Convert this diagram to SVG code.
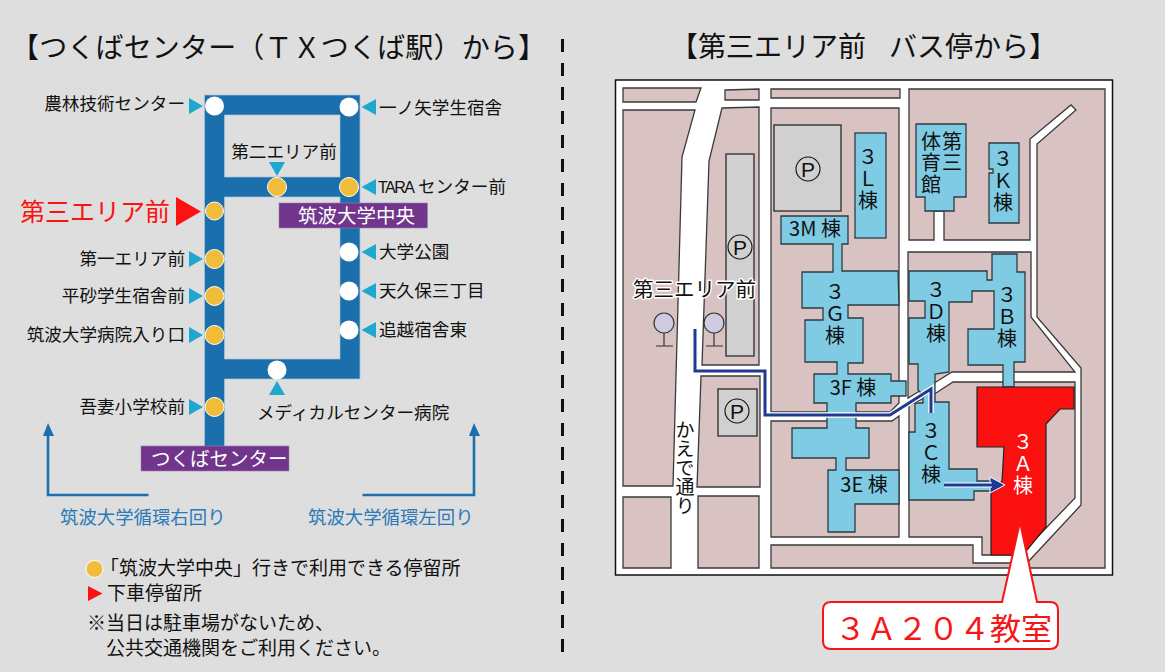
<svg xmlns="http://www.w3.org/2000/svg" width="1165" height="672" viewBox="0 0 1165 672">
<style>
text{font-family:"Noto Sans CJK JP","Noto Sans",sans-serif;fill:#111}
.t{font-size:28px}
.l{font-size:17.6px}
.e{text-anchor:end}
.c{text-anchor:middle}
.v{writing-mode:vertical-rl;font-size:20px;letter-spacing:1.500px}
.cy{fill:#1fa8cf}
.ys{fill:#f0bc3a;stroke:#fff;stroke-width:1}
.ws{fill:#fff}
.pu{fill:#71358c;stroke:#9b7fb0;stroke-width:.6}
.wt{fill:#fff;font-size:19.5px}
.bt{fill:#2a7ab8;font-size:18.4px}
.lg{font-size:19px}
.arr{fill:none;stroke:#1b6fad;stroke-width:2.6}
.ah{fill:#1b6fad}
.pk{fill:#d8c2c2;stroke:#3a3a3a;stroke-width:1.3}
.gr{fill:#d0d0d0;stroke:#2a2a2a;stroke-width:1.3}
.bl{fill:#7ecbe3;stroke:#2c3c44;stroke-width:1.3;fill-rule:evenodd}
.m{font-size:20px}
.pc{fill:none;stroke:#111;stroke-width:1.1}
.p{font-family:"Liberation Sans",sans-serif;font-size:21px}
.halo{fill:none;stroke:#fff;stroke-width:5.5}
.nv{fill:none;stroke:#1f3a93;stroke-width:3}
.sg{fill:#cfcbe2;stroke:#333;stroke-width:1.2}
.sl{fill:none;stroke:#333;stroke-width:1.2}
</style>
<rect width="1165" height="672" fill="#dedede"/>
<line x1="562.500" y1="39" x2="562.500" y2="652" stroke="#111" stroke-width="3" stroke-dasharray="13 11"/>

<g id="left-panel">
<text class="t" x="11" y="58" textLength="535">【つくばセンター（ＴＸつくば駅）から】</text>
</g>

<g id="connectors">
<path d="M204.5,95H360V379H224.5V447H204.5ZM224.5,115V177H340V115ZM224.5,197V359H340V197Z" fill="#1b6fad" fill-rule="evenodd" stroke="#a8c4da" stroke-width=".7"/>
<path class="arr" d="M148.500,495H48V432"/>
<path class="ah" d="M48,423L54,436H43Z"/>
<path class="arr" d="M362.500,495H474V432"/>
<path class="ah" d="M474,423L480,436H469Z"/>
</g>

<g id="stops">
<circle class="ws" cx="214.500" cy="106" r="9.500"/>
<circle class="ys" cx="214.500" cy="211" r="9"/>
<circle class="ys" cx="214.500" cy="259" r="9.500"/>
<circle class="ys" cx="214.500" cy="296" r="9.500"/>
<circle class="ys" cx="214.500" cy="335" r="9.500"/>
<circle class="ys" cx="214.500" cy="407" r="9.500"/>
<circle class="ws" cx="349" cy="107" r="9.500"/>
<circle class="ys" cx="349" cy="187" r="9.500"/>
<circle class="ws" cx="349" cy="252" r="9.500"/>
<circle class="ws" cx="349" cy="291" r="9.500"/>
<circle class="ws" cx="349" cy="330" r="9.500"/>
<circle class="ys" cx="277" cy="187" r="9.500"/>
<circle class="ws" cx="277" cy="370" r="9.500"/>
<path class="cy" d="M189,98L203,106L189,114ZM189,251L203,259L189,267ZM189,288L203,296L189,304ZM189,327L203,335L189,343ZM189,399L203,407L189,415Z"/>
<path class="cy" d="M376,99L361.500,107L376,115ZM376,179L361.500,187L376,195ZM376,244L361.500,252L376,260ZM376,283L361.500,291L376,299ZM376,322L361.500,330L376,338Z"/>
<path class="cy" d="M269,162H285L277,176ZM277,381L285,395H269Z"/>
<path d="M176,197L201,211.500L176,226Z" fill="#fb1212"/>
</g>

<g id="stop-labels">
<text class="l e" x="185" y="110">農林技術センター</text>
<text class="l" x="379" y="114">一ノ矢学生宿舎</text>
<text class="l c" x="284" y="158">第二エリア前</text>
<text class="l" x="378" y="192.500"><tspan font-family="Liberation Sans" font-size="16" letter-spacing="-1.500">TARA</tspan><tspan x="418">センター前</tspan></text>
<text x="170" y="220.500" class="e" font-size="25" style="fill:#fb1212">第三エリア前</text>
<text class="l e" x="185" y="265">第一エリア前</text>
<text class="l e" x="185" y="302">平砂学生宿舎前</text>
<text class="l e" x="185" y="341">筑波大学病院入り口</text>
<text class="l e" x="185" y="413">吾妻小学校前</text>
<text class="l" x="379" y="258">大学公園</text>
<text class="l" x="379" y="297">天久保三丁目</text>
<text class="l" x="379" y="336">追越宿舎東</text>
<text class="l" x="257" y="418.500">メディカルセンター病院</text>
</g>

<g id="terminal-chuo">
<rect class="pu" x="279" y="203" width="148.500" height="25"/>
<text class="wt" x="298" y="222.500">筑波大学中央</text>
</g>
<g id="terminal-tsukuba">
<rect class="pu" x="141" y="446" width="148" height="25"/>
<text class="wt" x="151" y="465.500">つくばセンター</text>
</g>

<g id="legend">
<text class="bt" x="60" y="524">筑波大学循環右回り</text>
<text class="bt" x="308" y="524">筑波大学循環左回り</text>
<circle class="ys" cx="94.500" cy="569" r="8.500"/>
<text class="lg" x="100" y="575">「筑波大学中央」行きで利用できる停留所</text>
<path d="M88,586L102.500,593.500L88,601Z" fill="#fb1212"/>
<text class="lg" x="107" y="600">下車停留所</text>
<text class="lg" x="87" y="630">※当日は駐車場がないため、</text>
<text class="lg" x="106" y="655">公共交通機関をご利用ください。</text>
</g>

<g id="map">
<text class="t" x="670" y="57">【第三エリア前<tspan x="889">バス停から】</tspan></text>
<rect x="615.500" y="80" width="497" height="495" fill="#fff" stroke="#111" stroke-width="1.500"/>
<path class="pk" d="M623,88H701L696,102H623Z"/>
<path class="pk" d="M725,90L759,89V100H725Z"/>
<path class="pk" d="M771,89H900V98H771Z"/>
<path class="pk" d="M623,110H695L682,157L673,486H623Z"/>
<path class="pk" d="M722,108L759,107V365H702L709,161Z"/>
<path class="pk" d="M701,376H760V487H697Z"/>
<path class="pk" d="M623,497L671,497V568H623Z"/>
<path class="pk" d="M698,496H759V568H698Z"/>
<path class="pk" d="M771,108H899V403L890,412H771Z"/>
<path class="pk" d="M771,421H892L899,416V537H771Z"/>
<path class="pk" d="M909,89H1105V568H771V545H973V563H1027L1081,505V368L1037,317V144L1076,110L1071,105L1030,139V240H944V211H934V240H909Z"/>
<path class="pk" d="M908,252H1031V317L1075,372H952L936,382L918,392L908,398Z"/>
<path class="pk" d="M953,382H1075V498L1020,555H982V537H909V405L936,393Z"/>
<rect class="gr" x="726" y="154" width="28" height="202"/>
<rect class="gr" x="718" y="389" width="39" height="47"/>
<rect class="gr" x="774" y="125" width="67" height="86"/>
<circle class="pc" cx="740" cy="247" r="12"/><text class="p c" x="740" y="254.500">P</text>
<circle class="pc" cx="737" cy="411" r="12"/><text class="p c" x="737" y="418.500">P</text>
<circle class="pc" cx="808" cy="169" r="12"/><text class="p c" x="808" y="176.500">P</text>
</g>

<g id="bus-stops">
<circle class="sg" cx="664" cy="323" r="10"/><path class="sl" d="M664,333V346M656,346H673"/>
<circle class="sg" cx="714" cy="323" r="10"/><path class="sl" d="M714,333V346M706,346H723"/>
</g>

<g id="bldg-3L"><rect class="bl" x="855" y="133" width="31" height="105"/>
<text class="v" x="868" y="147">３Ｌ棟</text></g>
<g id="bldg-gym"><path class="bl" d="M916,124H966V197H954V211H925V197H916Z"/>
<text class="v" x="952" y="131">第三</text>
<text class="v" x="931" y="131">体育館</text></g>
<g id="bldg-3K"><path class="bl" d="M989,143H1019V223H989V173H993V169H989Z"/>
<text class="v" x="1003" y="149">３Ｋ棟</text></g>
<g id="bldg-3G"><path class="bl" d="M781,216H848V244H842V271H898L899,305H848V318H863V363H848V374H891V381H906V396H891V403H856V428H869V458H846V470H899V504H855V532H828V470H836V458H792V428H827V403H814V374H837V362H805V320H823V308H802V272H833V244H781Z"/>
<text class="m c" x="815" y="236" font-size="19">3M 棟</text>
<text class="v" x="835" y="282">３Ｇ棟</text>
<text class="m c" x="853" y="395">3F 棟</text>
<text class="m c" x="864" y="492">3E 棟</text></g>
<g id="bldg-3D"><path class="bl" d="M909,271H987V280H992V254H1017V272H1025V362H1014V387H1003V365H968V329H994V291H972V302H949V372L935,374V402H949V469H977V481H991V491H974V500H909V432H915V403H923V395L918,390V364H909V318H925V301H909Z"/>
<text class="v" x="936" y="280">３Ｄ棟</text>
<text class="v" x="1007" y="285">３Ｂ棟</text>
<text class="v" x="931" y="421">３Ｃ棟</text></g>
<g id="bldg-3A"><path d="M977,387H1074V409H1060L1046,424V527L1023,555H991V493L1002,481L1004,447H977Z" fill="#fb1010" stroke="#222" stroke-width="1.200"/>
<text class="v" x="1023" y="432" style="fill:#fff">３Ａ棟</text></g>

<g id="route-overlay">
<path class="halo" d="M931,413V389L890,415H765V371H695V329"/>
<path class="nv" d="M931,413V389L890,415H765V371H695V329"/>
<path d="M990,477L1005,485L990,493Z" fill="#1f3a93" stroke="#fff" stroke-width="1"/>
<path d="M944,485H992" fill="none" stroke="#fff" stroke-width="5"/>
<path d="M944,485H992" fill="none" stroke="#1f3a93" stroke-width="3"/>
</g>

<g id="map-labels">
<text x="633" y="297" font-size="20.500" stroke="#fff" stroke-width="3" paint-order="stroke" stroke-linejoin="round">第三エリア前</text>
<text x="685" y="420" font-size="19" writing-mode="vertical-rl">かえで通り</text>
</g>

<g id="callout">
<path d="M831,602H1002L1020,522L1037,602H1050Q1058,602 1058,610V641Q1058,649 1050,649H831Q823,649 823,641V610Q823,602 831,602Z" fill="#fff" stroke="#f61616" stroke-width="2"/>
<text x="835" y="640" font-size="31" style="fill:#f61616">３Ａ２０４教室</text>
</g>
</svg>
